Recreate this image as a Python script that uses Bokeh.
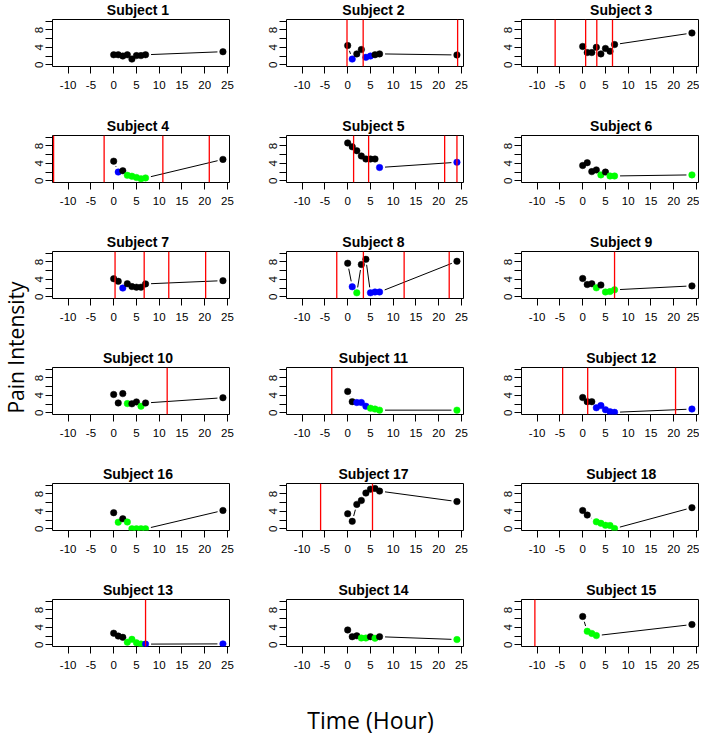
import math
from bokeh.plotting import figure
from bokeh.layouts import row, column
from bokeh.models import FixedTicker, Range1d, ColumnDataSource
from bokeh.core.properties import value
from bokeh.embed import file_html
from bokeh.resources import INLINE

# ---------------- data ----------------
hours = [0, 1, 2, 3, 4, 5, 6, 7, 24]
panel_order = [1, 2, 3, 4, 5, 6, 7, 8, 9, 10, 11, 12, 16, 17, 18, 13, 14, 15]
x_ticks = [-10, -5, 0, 5, 10, 15, 20, 25]
x_tick_labels = {-10: "-10", -5: "-5", 0: "0", 5: "5", 10: "10", 15: "15", 20: "20", 25: "25"}
y_ticks = [0, 2, 4, 6, 8, 10]
y_tick_labels = {0: "0", 2: "", 4: "4", 6: "", 8: "8", 10: ""}
y_label = "Pain Intensity"
x_label = "Time (Hour)"

# group codes: k = black, b = blue, g = green, - = no observation
pain_1 = [2.3, 2.3, 2.0, 2.3, 1.3, 2.1, 2.1, 2.3, 3.0]
group_1 = "kkkkkkkkk"
red_1 = []
pain_2 = [4.4, 1.3, 2.5, 3.5, 1.7, 2.0, 2.3, 2.5, 2.25]
group_2 = "kbkkbbkkk"
red_2 = [-0.15, 3.4, 24.15]
pain_3 = [4.2, 2.8, 2.8, 4.0, 2.5, 3.75, 3.1, 4.65, 7.3]
group_3 = "kkkkkkkkk"
red_3 = [-6.05, 0.65, 3.1, 6.55]
pain_4 = [4.5, 2.0, 2.3, 1.25, 1.05, 0.75, 0.45, 0.65, 4.9]
group_4 = "kbkgggggk"
red_4 = [-13.2, -2.1, 10.8, 21.0]
pain_5 = [8.7, 7.8, 6.9, 5.7, 5.0, 5.0, 5.0, 3.05, 4.25]
group_5 = "kkkkkkkbb"
red_5 = [1.3, 4.6, 21.3, 24.0]
pain_6 = [3.5, 4.15, 2.1, 2.5, 1.35, 2.0, 1.1, 1.1, 1.35]
group_6 = "kkkkgkggg"
red_6 = []
pain_7 = [4.15, 3.55, 2.0, 3.0, 2.35, 2.2, 2.2, 2.95, 3.7]
group_7 = "kkbkkkkkk"
red_7 = [0.3, 6.7, 12.1, 20.2]
pain_8 = [7.7, 2.3, 0.9, 7.4, 8.6, 0.9, 1.1, 1.1, 8.15]
group_8 = "kbgkkbbbk"
red_8 = [-2.4, 3.45, 12.4, 22.3]
pain_9 = [4.2, 2.8, 3.0, 2.05, 2.7, 1.1, 1.2, 1.6, 2.5]
group_9 = "kkkgkgggk"
red_9 = [7.0]
pain_10 = [4.2, 2.25, 4.4, 2.1, 2.05, 2.5, 1.5, 2.25, 3.45]
group_10 = "kkkgkkgkk"
red_10 = [11.75]
pain_11 = [4.9, 2.55, 2.35, 2.35, 1.5, 1.05, 0.85, 0.6, 0.6]
group_11 = "kkbbbgggg"
red_11 = [-3.5]
pain_12 = [3.5, 2.55, 2.55, 1.15, 1.65, 0.7, 0.25, 0.1, 0.85]
group_12 = "kkkbbbbbb"
red_12 = [-4.4, 1.1, 20.4]
pain_13 = [2.65, 2.0, 1.7, 0.6, 1.25, 0.45, 0.15, 0.15, 0.2]
group_13 = "kkkggggbb"
red_13 = [7.0]
pain_14 = [3.4, 1.85, 2.05, 1.55, 1.55, 1.85, 1.5, 1.85, 1.2]
group_14 = "kkkggkgkg"
red_14 = []
pain_15 = [6.5, 3.1, 2.6, 2.1, None, None, None, None, 4.65]
group_15 = "kggg----k"
red_15 = [-10.5]
pain_16 = [3.7, 1.5, 2.3, 1.55, 0.0, 0.0, 0.0, 0.0, 4.2]
group_16 = "kgkgggggk"
red_16 = []
pain_17 = [3.45, 1.7, 5.6, 6.5, 8.2, 9.1, 9.25, 8.65, 6.25]
group_17 = "kkkkkkkkk"
red_17 = [-5.95, 5.45]
pain_18 = [4.2, 3.15, None, 1.6, 1.25, 0.8, 0.75, 0.05, 4.85]
group_18 = "kk-gggggk"
red_18 = []

pain = {1: pain_1, 2: pain_2, 3: pain_3, 4: pain_4, 5: pain_5, 6: pain_6,
        7: pain_7, 8: pain_8, 9: pain_9, 10: pain_10, 11: pain_11, 12: pain_12,
        13: pain_13, 14: pain_14, 15: pain_15, 16: pain_16, 17: pain_17, 18: pain_18}
group = {1: group_1, 2: group_2, 3: group_3, 4: group_4, 5: group_5, 6: group_6,
         7: group_7, 8: group_8, 9: group_9, 10: group_10, 11: group_11, 12: group_12,
         13: group_13, 14: group_14, 15: group_15, 16: group_16, 17: group_17, 18: group_18}
reds = {1: red_1, 2: red_2, 3: red_3, 4: red_4, 5: red_5, 6: red_6,
        7: red_7, 8: red_8, 9: red_9, 10: red_10, 11: red_11, 12: red_12,
        13: red_13, 14: red_14, 15: red_15, 16: red_16, 17: red_17, 18: red_18}

COLORS = {"k": "#000000", "b": "#0000FF", "g": "#00FF00"}

# ---------------- layout constants ----------------
X0, X1 = -13.44, 25.44       # xlim(-12, 24) with R's 4% extension
Y0, Y1 = -0.4, 10.4          # ylim(0, 10) with R's 4% extension
LBL_W = 30
COL_W = [229, 235, 205]
LEFT_B = [22, 27, 27]
FW = 177
FH = 47
TITLE_H = 18
PLOT_TOP = 1
PLOT_BOT = 50
ROW_H = TITLE_H + PLOT_TOP + FH + PLOT_BOT
GAP = 5.5                    # px gap around points (R type = "b")
TICK_FONT = "Liberation Sans"


def make_panel(subject, col):
    w = COL_W[col]
    lb = LEFT_B[col]
    right_b = w - lb - FW

    t = figure(width=w, height=TITLE_H, x_range=Range1d(0, w), y_range=Range1d(0, TITLE_H),
               output_backend="svg", toolbar_location=None, min_border=0,
               x_axis_type=None, y_axis_type=None)
    t.grid.visible = False
    t.outline_line_color = None
    t.text(x=[lb + FW / 2], y=[TITLE_H / 2], text=[f"Subject {subject}"], text_align="center",
           text_baseline="middle", text_font=value("Liberation Sans"),
           text_font_style="bold", text_font_size="14px", text_color="black")

    p = figure(width=w, height=PLOT_TOP + FH + PLOT_BOT, x_range=Range1d(X0, X1),
               y_range=Range1d(Y0, Y1), output_backend="svg", toolbar_location=None,
               min_border_left=lb, min_border_right=right_b,
               min_border_top=PLOT_TOP, min_border_bottom=PLOT_BOT)
    p.background_fill_color = "white"
    p.border_fill_color = "white"
    p.outline_line_color = "black"
    p.outline_line_width = 1
    p.outline_line_alpha = 1
    p.grid.visible = False

    p.xaxis.ticker = FixedTicker(ticks=x_ticks)
    p.xaxis.major_label_overrides = x_tick_labels
    p.yaxis.ticker = FixedTicker(ticks=y_ticks)
    p.yaxis.major_label_overrides = y_tick_labels
    p.yaxis.major_label_orientation = "vertical"
    for ax in (p.xaxis, p.yaxis):
        ax.axis_line_color = None
        ax.major_tick_line_color = "black"
        ax.major_tick_out = 7
        ax.major_tick_in = 0
        ax.minor_tick_line_color = None
        ax.major_label_text_font = TICK_FONT
        ax.major_label_text_font_size = "11.5px"
        ax.major_label_text_color = "black"
    p.xaxis.major_label_standoff = 7
    p.yaxis.major_label_standoff = 2

    vals = pain[subject]
    grp = group[subject]
    pts = [(h, v, grp[i]) for i, (h, v) in enumerate(zip(hours, vals)) if v is not None]

    # connecting segments with gaps around the points (R type="b")
    sx = FW / (X1 - X0)
    sy = FH / (Y1 - Y0)
    x0s, y0s, x1s, y1s = [], [], [], []
    for (xa, ya, _), (xb, yb, _) in zip(pts[:-1], pts[1:]):
        d = math.hypot((xb - xa) * sx, (yb - ya) * sy)
        if d > 2 * GAP:
            f = GAP / d
            x0s.append(xa + f * (xb - xa))
            y0s.append(ya + f * (yb - ya))
            x1s.append(xb - f * (xb - xa))
            y1s.append(yb - f * (yb - ya))
    if x0s:
        p.segment(x0=x0s, y0=y0s, x1=x1s, y1=y1s, line_color="black", line_width=1)

    src = ColumnDataSource(dict(x=[q[0] for q in pts], y=[q[1] for q in pts],
                                c=[COLORS[q[2]] for q in pts]))
    p.scatter(x="x", y="y", source=src, size=6.5, fill_color="c", line_color="c",
              line_width=0.5)

    rl = reds[subject]
    if rl:
        p.segment(x0=rl, y0=[Y0] * len(rl), x1=rl, y1=[Y1] * len(rl),
                  line_color="#FF0000", line_width=1.3)
    return column(t, p, spacing=0)


rows = []
for r in range(6):
    panels = [make_panel(panel_order[r * 3 + c], c) for c in range(3)]
    rows.append(row(*panels, spacing=0))
grid = column(*rows, spacing=0)

GRID_H = ROW_H * 6
ylab = figure(width=LBL_W, height=GRID_H, x_range=Range1d(0, LBL_W), y_range=Range1d(0, GRID_H),
              output_backend="svg", toolbar_location=None, min_border=0,
              x_axis_type=None, y_axis_type=None)
ylab.grid.visible = False
ylab.outline_line_color = None
ylab.text(x=[LBL_W / 2], y=[GRID_H - 347], text=[y_label], angle=math.pi / 2,
          text_align="center", text_baseline="middle",
          text_font=value("Open Sans"), text_font_size="21px", text_color="black")

TOTAL_W = LBL_W + sum(COL_W)
XL_H = 734 - GRID_H
xlab = figure(width=TOTAL_W, height=XL_H, x_range=Range1d(0, TOTAL_W), y_range=Range1d(0, XL_H),
              output_backend="svg", toolbar_location=None, min_border=0,
              x_axis_type=None, y_axis_type=None)
xlab.grid.visible = False
xlab.outline_line_color = None
xlab.text(x=[370], y=[XL_H - 23], text=[x_label], text_align="center", text_baseline="middle",
          text_font=value("Open Sans"), text_font_size="23px", text_color="black")

layout = column(row(ylab, grid, spacing=0), xlab, spacing=0)

open("out.html", "w").write(file_html(layout, INLINE))
